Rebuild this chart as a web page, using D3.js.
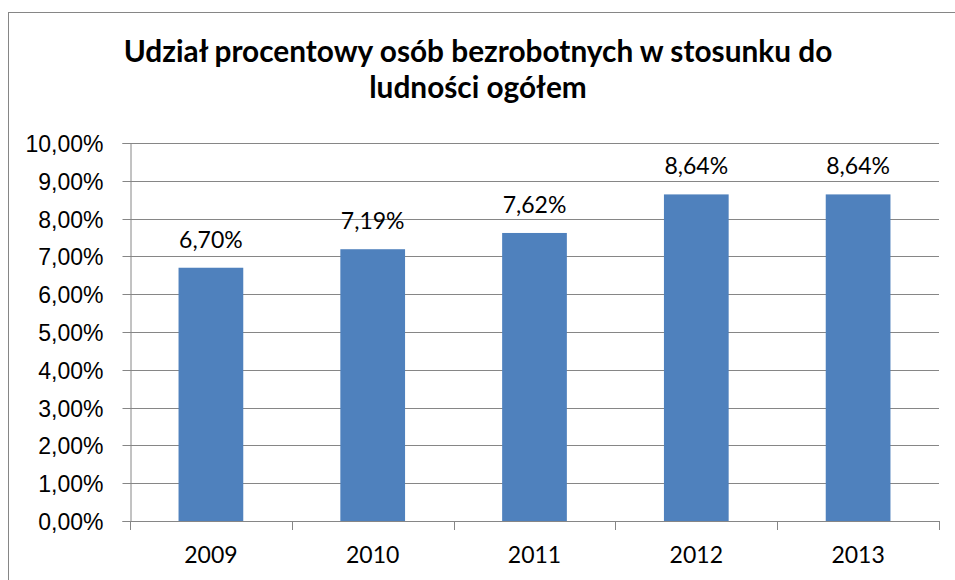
<!DOCTYPE html>
<html>
<head>
<meta charset="utf-8">
<script src="https://cdn.jsdelivr.net/npm/d3@7"></script>
<style>
  html, body { margin: 0; padding: 0; background: #fff; }
  svg { display: block; font-family: Lato, "Open Sans", sans-serif; }
</style>
</head>
<body>
<svg id="chart" width="955" height="580"></svg>
<script>
// data
const years = ['2009', '2010', '2011', '2012', '2013'];
const shares = [6.70, 7.19, 7.62, 8.64, 8.64];
const yTicks = [0, 1, 2, 3, 4, 5, 6, 7, 8, 9, 10];
const titleLines = ['Udział procentowy osób bezrobotnych w stosunku do', 'ludności ogółem'];

const W = 955, H = 580;
const m = { left: 130, right: 16, top: 143, bottom: 59 };
const pct = v => v.toFixed(2).replace('.', ',') + '%';
const labelSize = 23;

const svg = d3.select('#chart');

// outer chart frame (runs off the right and bottom edges)
svg.append('rect')
  .attr('x', 8.5).attr('y', 12.5).attr('width', 980).attr('height', 600)
  .attr('fill', '#fff').attr('stroke', '#868686').attr('stroke-width', 1);

const x = d3.scaleBand().domain(years).range([m.left, W - m.right]).paddingInner(0.6).paddingOuter(0.3);
const y = d3.scaleLinear().domain([0, 10]).range([H - m.bottom, m.top]);

// fit a text element to a given width by adjusting font size
function fit(sel, width) {
  const w = sel.node().getComputedTextLength();
  const fs = parseFloat(sel.attr('font-size'));
  sel.attr('font-size', fs * width / w);
}

// title
const t1 = svg.append('text').attr('x', 478).attr('y', 62).attr('text-anchor', 'middle')
  .attr('font-weight', 700).attr('font-size', 26).attr('fill', '#000').text(titleLines[0]);
fit(t1, 709);
svg.append('text').attr('x', 478).attr('y', 98).attr('text-anchor', 'middle')
  .attr('font-weight', 700).attr('font-size', t1.attr('font-size')).attr('fill', '#000').text(titleLines[1]);

// gridlines
svg.append('g').selectAll('line').data(yTicks.slice(1)).join('line')
  .attr('x1', m.left).attr('x2', W - m.right)
  .attr('y1', d => Math.round(y(d)) + 0.5).attr('y2', d => Math.round(y(d)) + 0.5)
  .attr('stroke', '#868686');

// y axis
const yAxis = svg.append('g').attr('transform', `translate(${m.left + 0.5},0)`)
  .call(d3.axisLeft(y).tickValues(yTicks).tickFormat(pct).tickSize(8).tickPadding(19));
yAxis.select('.domain').attr('stroke', '#868686');
yAxis.selectAll('.tick line').attr('stroke', '#868686');
yAxis.selectAll('.tick').attr('transform', d => `translate(0,${Math.round(y(d)) + 0.5})`);
yAxis.selectAll('.tick text').attr('font-family', null).attr('font-size', labelSize).attr('fill', '#000').attr('dy', '0.35em');

// bars
svg.append('g').selectAll('rect').data(shares).join('rect')
  .attr('x', (d, i) => x(years[i])).attr('width', x.bandwidth())
  .attr('y', d => y(d)).attr('height', d => y(0) - y(d))
  .attr('fill', '#4f81bd');

// x axis
const xBounds = d3.range(years.length + 1).map(i => m.left + i * (W - m.right - m.left) / years.length);
const xAxis = svg.append('g');
xAxis.append('line').attr('x1', m.left).attr('x2', W - m.right)
  .attr('y1', Math.round(y(0)) + 0.5).attr('y2', Math.round(y(0)) + 0.5).attr('stroke', '#868686');
xAxis.selectAll('line.tick').data(xBounds).join('line').attr('class', 'tick')
  .attr('x1', d => Math.round(d) + 0.5).attr('x2', d => Math.round(d) + 0.5)
  .attr('y1', Math.round(y(0))).attr('y2', Math.round(y(0)) + 9).attr('stroke', '#868686');
xAxis.selectAll('text').data(years).join('text')
  .attr('x', d => x(d) + x.bandwidth() / 2).attr('y', 563)
  .attr('text-anchor', 'middle').attr('font-size', labelSize).attr('fill', '#000').text(d => d);

// data labels
svg.append('g').selectAll('text').data(shares).join('text')
  .attr('x', (d, i) => x(years[i]) + x.bandwidth() / 2).attr('y', d => y(d) - 20)
  .attr('text-anchor', 'middle').attr('font-size', labelSize).attr('fill', '#000').text(pct);
</script>
</body>
</html>
